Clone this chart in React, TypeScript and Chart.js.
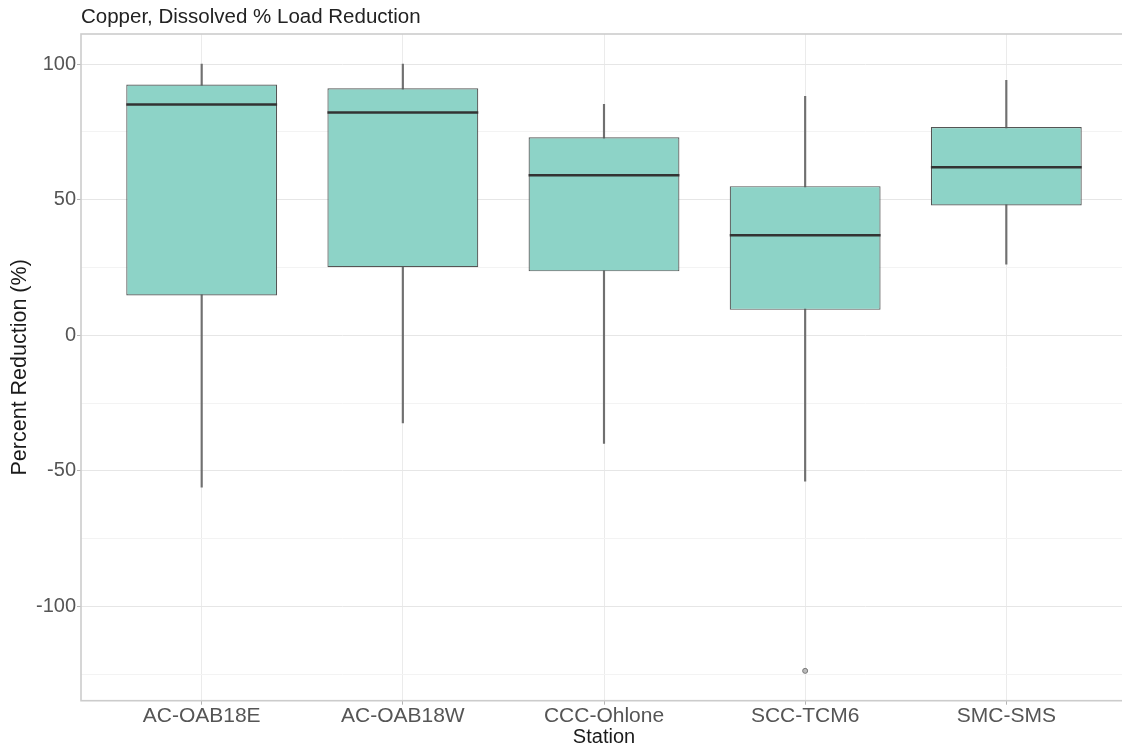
import { useEffect, useRef } from 'react';
import { Chart, registerables } from 'chart.js';

Chart.register(...registerables);

const stations = ['AC-OAB18E', 'AC-OAB18W', 'CCC-Ohlone', 'SCC-TCM6', 'SMC-SMS'];
const whiskerLow = [-56.0, -32.3, -39.8, -53.8, 26.2];
const q1 = [14.7, 25.1, 23.6, 9.4, 47.9];
const median = [85.1, 82.2, 59.0, 36.9, 62.0];
const q3 = [92.5, 91.1, 73.0, 55.0, 76.8];
const whiskerHigh = [100.0, 100.0, 85.2, 88.1, 94.0];
const outlierStationIndex = [3];
const outlierValue = [-123.7];
const yTickValues = [-125, -100, -75, -50, -25, 0, 25, 50, 75, 100];

const FONT = "'Liberation Sans', Arial, Helvetica, sans-serif";

const panelBorder = {
  id: 'panelBorder',
  afterDatasetsDraw(chart: any) {
    const { ctx, chartArea } = chart;
    ctx.save();
    ctx.strokeStyle = '#cccccc';
    ctx.lineWidth = 1.6;
    ctx.strokeRect(chartArea.left, chartArea.top, chartArea.right - chartArea.left, chartArea.bottom - chartArea.top);
    ctx.restore();
  },
};

export default function App() {
  const ref = useRef<HTMLCanvasElement>(null);

  useEffect(() => {
    document.body.style.margin = '0';
    document.body.style.overflow = 'hidden';
    const canvas = ref.current;
    if (!canvas) return;
    const chart = new Chart(canvas, {
      type: 'bar',
      data: {
        datasets: [
          {
            type: 'bar',
            label: 'whiskers',
            data: stations.map((_, i) => ({ x: i, y: [whiskerLow[i], whiskerHigh[i]] })) as any,
            backgroundColor: '#707070',
            borderWidth: 0,
            barThickness: 1.5,
            grouped: false,
            order: 3,
          },
          {
            type: 'bar',
            label: 'boxes',
            data: stations.map((_, i) => ({ x: i, y: [q1[i], q3[i]] })) as any,
            backgroundColor: '#8DD3C7',
            borderColor: '#555555',
            borderWidth: 1.2,
            borderSkipped: false,
            barPercentage: 0.75,
            categoryPercentage: 1,
            grouped: false,
            order: 2,
          },
          {
            type: 'scatter',
            label: 'median',
            data: stations.map((_, i) => ({ x: i, y: median[i] })),
            pointStyle: 'line',
            pointRadius: 75.4,
            pointHoverRadius: 75.4,
            borderColor: '#333333',
            pointBorderWidth: 2.5,
            order: 1,
          },
          {
            type: 'scatter',
            label: 'outliers',
            data: outlierStationIndex.map((s, i) => ({ x: s, y: outlierValue[i] })),
            pointStyle: 'circle',
            pointRadius: 2.5,
            backgroundColor: '#bbbbbb',
            borderColor: '#777777',
            borderWidth: 1,
            order: 0,
          },
        ],
      },
      options: {
        animation: false,
        responsive: false,
        devicePixelRatio: 1,
        layout: { autoPadding: false, padding: { top: 0, right: 3, bottom: 0, left: 0 } },
        plugins: {
          legend: { display: false },
          tooltip: { enabled: false },
          title: {
            display: true,
            text: 'Copper, Dissolved % Load Reduction',
            align: 'start',
            fullSize: false,
            color: '#222222',
            font: { family: FONT, size: 20.5, weight: 'normal' },
            padding: { top: 5, bottom: 4.4 },
          },
        },
        scales: {
          x: {
            type: 'linear',
            position: 'bottom',
            min: -0.6,
            max: 4.6,
            offset: false,
            afterBuildTicks: (axis: any) => {
              axis.ticks = stations.map((_, i) => ({ value: i }));
            },
            afterFit: (axis: any) => {
              axis.height = 48.3;
            },
            ticks: {
              callback: (v: any) => stations[Math.round(Number(v))] ?? '',
              color: '#555555',
              font: { family: FONT, size: 21 },
              padding: -1,
              maxRotation: 0,
              autoSkip: false,
            },
            grid: {
              offset: false,
              color: '#ebebeb',
              lineWidth: 1,
              tickLength: 4,
              tickColor: '#b3b3b3',
            },
            border: { display: false },
            title: {
              display: true,
              text: 'Station',
              color: '#1a1a1a',
              font: { family: FONT, size: 20 },
              padding: { top: 0, bottom: 0 },
            },
          },
          y: {
            type: 'linear',
            min: -134.7,
            max: 111.1,
            afterBuildTicks: (axis: any) => {
              axis.ticks = yTickValues.map((v) => ({ value: v }));
            },
            afterFit: (axis: any) => {
              axis.width = 81;
            },
            ticks: {
              callback: (v: any) => (Number(v) % 50 === 0 ? String(v) : ''),
              color: '#555555',
              font: { family: FONT, size: 20 },
              padding: 1,
              autoSkip: false,
            },
            grid: {
              color: (ctx: any) => (ctx.tick && ctx.tick.value % 50 === 0 ? '#e6e6e6' : '#f3f3f3'),
              lineWidth: 1,
              tickLength: 4,
              tickColor: (ctx: any) => (ctx.tick && ctx.tick.value % 50 === 0 ? '#b3b3b3' : 'rgba(0,0,0,0)'),
            },
            border: { display: false },
            title: {
              display: true,
              text: 'Percent Reduction (%)',
              color: '#1a1a1a',
              font: { family: FONT, size: 21.5 },
              padding: { top: 7, bottom: 0 },
            },
          },
        },
      },
      plugins: [panelBorder],
    } as any);
    return () => chart.destroy();
  }, []);

  return (
    <div style={{ width: 1122, height: 749, overflow: 'hidden', position: 'relative' }}>
      <canvas ref={ref} width={1130} height={749} style={{ display: 'block', width: 1130, height: 749 }} />
    </div>
  );
}
